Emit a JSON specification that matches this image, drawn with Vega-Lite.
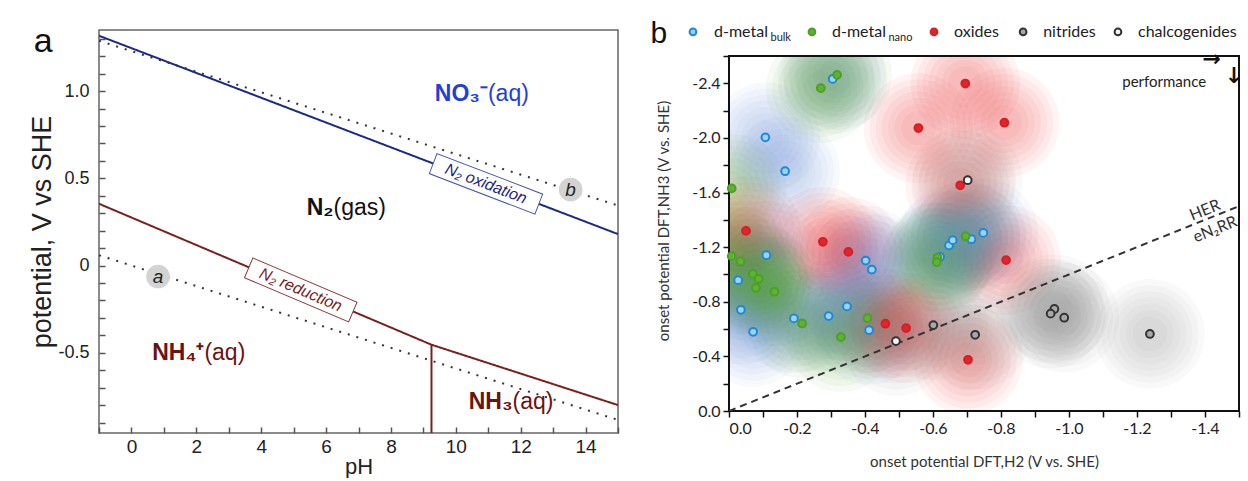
{
  "$schema": "https://vega.github.io/schema/vega-lite/v6.json",
  "background": "white",
  "padding": {"left": 28, "top": 18, "right": 4, "bottom": 0},
  "spacing": 30,
  "config": {"axis": {"grid": false}},
  "resolve": {"scale": {"color": "independent"}},
  "hconcat": [
    {
      "width": 519,
      "height": 403,
      "view": {"stroke": "#666", "strokeWidth": 1.5},
      "resolve": {"scale": {"color": "independent"}},
      "encoding": {
        "x": {
          "field": "pH", "type": "quantitative",
          "scale": {"domain": [-1, 15], "nice": false, "zero": false},
          "axis": {
            "title": "pH",
            "values": [-1,0,1,2,3,4,5,6,7,8,9,10,11,12,13,14,15],
            "labelExpr": "(datum.value % 2 == 0 && datum.value >= 0 && datum.value <= 14) ? format(datum.value, 'd') : ''",
            "domain": false, "tickSize": -6, "tickColor": "#555", "tickWidth": 1.5,
            "labelFont": "Liberation Sans", "labelFontSize": 19, "labelColor": "#222", "labelPadding": 10,
            "titleFont": "Liberation Sans", "titleFontSize": 22, "titleFontWeight": "normal", "titleColor": "#222", "titlePadding": 0
          }
        },
        "y": {
          "field": "E", "type": "quantitative",
          "scale": {"domain": [-0.96, 1.35], "nice": false, "zero": false},
          "axis": {
            "title": "potential, V vs SHE",
            "values": [-0.9,-0.8,-0.7,-0.6,-0.5,-0.4,-0.3,-0.2,-0.1,0,0.1,0.2,0.3,0.4,0.5,0.6,0.7,0.8,0.9,1.0,1.1,1.2,1.3],
            "labelExpr": "abs(datum.value*2 - round(datum.value*2)) < 0.001 ? (abs(datum.value) < 0.001 ? '0' : replace(format(datum.value, '.1f'), '\u2212', '-')) : ''",
            "domain": false, "tickSize": -6, "tickColor": "#555", "tickWidth": 1.5,
            "labelFont": "Liberation Sans", "labelFontSize": 18, "labelColor": "#222", "labelPadding": 16,
            "titleFont": "Liberation Sans", "titleFontSize": 27, "titleFontWeight": "normal", "titleColor": "#222", "titlePadding": 1
          }
        }
      },
      "layer": [
        {
          "data": {"values": [
            {"s": "ox", "pH": -1, "E": 1.317}, {"s": "ox", "pH": 15, "E": 0.18},
            {"s": "red", "pH": -1, "E": 0.354}, {"s": "red", "pH": 9.25, "E": -0.454}, {"s": "red", "pH": 15, "E": -0.80},
            {"s": "v", "pH": 9.25, "E": -0.454}, {"s": "v", "pH": 9.25, "E": -0.96},
            {"s": "da", "pH": -1, "E": 0.059}, {"s": "da", "pH": 15, "E": -0.885},
            {"s": "db", "pH": -1, "E": 1.288}, {"s": "db", "pH": 15, "E": 0.344}
          ]},
          "mark": {"type": "line", "clip": true, "strokeWidth": 2},
          "encoding": {
            "color": {"field": "s", "type": "nominal", "legend": null,
              "scale": {"domain": ["ox", "red", "v", "da", "db"], "range": ["#1b2a86", "#7b1f1f", "#7b1f1f", "#333333", "#333333"]}},
            "strokeDash": {"field": "s", "type": "nominal", "legend": null,
              "scale": {"domain": ["ox", "red", "v", "da", "db"], "range": [[1, 0], [1, 0], [1, 0], [2, 7], [2, 7]]}}
          }
        },
        {
          "data": {"values": [{"pH": 10.93, "E": 0.468}]},
          "mark": {"type": "point", "shape": "M-1,-0.19L1,-0.19L1,0.19L-1,0.19Z", "size": 12800, "angle": 21, "filled": true, "fill": "white", "stroke": "#4b58a6", "strokeWidth": 1, "opacity": 1}
        },
        {
          "data": {"values": [{"pH": 10.93, "E": 0.468, "t": "N₂ oxidation"}]},
          "mark": {"type": "text", "angle": 21, "fontStyle": "italic", "fontSize": 16, "font": "Liberation Sans", "color": "#1c2580"},
          "encoding": {"text": {"field": "t"}}
        },
        {
          "data": {"values": [{"pH": 5.22, "E": -0.14}]},
          "mark": {"type": "point", "shape": "M-1,-0.19L1,-0.19L1,0.19L-1,0.19Z", "size": 12800, "angle": 23, "filled": true, "fill": "white", "stroke": "#8b3a3a", "strokeWidth": 1, "opacity": 1}
        },
        {
          "data": {"values": [{"pH": 5.22, "E": -0.14, "t": "N₂ reduction"}]},
          "mark": {"type": "text", "angle": 23, "fontStyle": "italic", "fontSize": 16, "font": "Liberation Sans", "color": "#7a1c1c"},
          "encoding": {"text": {"field": "t"}}
        },
        {
          "data": {"values": [{"pH": 0.82, "E": -0.063, "t": "a"}, {"pH": 13.54, "E": 0.435, "t": "b"}]},
          "layer": [
            {"mark": {"type": "point", "shape": "circle", "size": 560, "filled": true, "color": "#d3d3d3", "opacity": 1}},
            {"mark": {"type": "text", "fontStyle": "italic", "fontSize": 19, "font": "Liberation Sans", "color": "#222"},
             "encoding": {"text": {"field": "t"}}}
          ]
        },
        {
          "data": {"values": [
            {"pH": 10.99, "E": 0.981, "b": "NO₃⁻", "r": "(aq)", "c": "no3"},
            {"pH": 6.23, "E": 0.33, "b": "N₂", "r": "(gas)", "c": "n2"},
            {"pH": 2.25, "E": -0.50, "b": "NH₄⁺", "r": "(aq)", "c": "nh4"},
            {"pH": 11.75, "E": -0.78, "b": "NH₃", "r": "(aq)", "c": "nh3"}
          ]},
          "layer": [
            {"mark": {"type": "text", "align": "right", "fontWeight": "bold", "fontSize": 23, "font": "Liberation Sans"},
             "encoding": {"text": {"field": "b"},
               "color": {"field": "c", "type": "nominal", "legend": null,
                 "scale": {"domain": ["no3", "n2", "nh4", "nh3"], "range": ["#1f3fd6", "#111111", "#6d1212", "#6d1212"]}}}},
            {"mark": {"type": "text", "align": "left", "fontSize": 23, "font": "Liberation Sans"},
             "encoding": {"text": {"field": "r"},
               "color": {"field": "c", "type": "nominal", "legend": null,
                 "scale": {"domain": ["no3", "n2", "nh4", "nh3"], "range": ["#1f3fd6", "#111111", "#6d1212", "#6d1212"]}}}}
          ]
        },
        {
          "data": {"values": [{"pH": -2.72, "E": 1.222, "t": "a"}]},
          "mark": {"type": "text", "baseline": "alphabetic", "fontSize": 34, "font": "Liberation Sans", "color": "#111"},
          "encoding": {"text": {"field": "t"}}
        }
      ]
    },
    {
      "width": 510,
      "height": 381,
      "view": {"stroke": null},
      "encoding": {
        "x": {
          "field": "x", "type": "quantitative",
          "scale": {"domain": [-1.5, 0], "reverse": true, "nice": false, "zero": false},
          "axis": {
            "title": "onset potential DFT,H2 (V vs. SHE)",
            "values": [0,-0.1,-0.2,-0.3,-0.4,-0.5,-0.6,-0.7,-0.8,-0.9,-1.0,-1.1,-1.2,-1.3,-1.4,-1.5],
            "labelExpr": "abs(datum.value*5 - round(datum.value*5)) < 0.001 && datum.value > -1.45 ? replace(format(datum.value, '.1f'), '\u2212', '-') : ''",
            "domain": false, "tickSize": 6, "tickColor": "#111", "tickWidth": 1.5,
            "labelFont": "Lato", "labelFontSize": 16, "labelColor": "#222", "labelPadding": 3,
            "titleFont": "Lato", "titleFontSize": 15, "titleFontWeight": "normal", "titleColor": "#333", "titlePadding": 18
          }
        },
        "y": {
          "field": "y", "type": "quantitative",
          "scale": {"domain": [-2.79, 0], "reverse": true, "nice": false, "zero": false},
          "axis": {
            "title": "onset potential DFT,NH3 (V vs. SHE)",
            "values": [0,-0.2,-0.4,-0.6,-0.8,-1.0,-1.2,-1.4,-1.6,-1.8,-2.0,-2.2,-2.4,-2.6],
            "labelExpr": "abs(datum.value*2.5 - round(datum.value*2.5)) < 0.001 && datum.value > -2.55 ? replace(format(datum.value, '.1f'), '\u2212', '-') : ''",
            "domain": false, "tickSize": 6, "tickColor": "#111", "tickWidth": 1.5,
            "labelFont": "Lato", "labelFontSize": 16, "labelColor": "#222", "labelPadding": 3,
            "titleFont": "Lato", "titleFontSize": 15, "titleFontWeight": "normal", "titleColor": "#333", "titlePadding": 20
          }
        }
      },
      "layer": [
        {
          "data": {"name": "pts"},
          "encoding": {"color": {"field": "cls", "type": "nominal", "legend": null,
            "scale": {"domain": ["d-metal bulk", "d-metal nano", "oxides", "nitrides", "chalcogenides"], "range": ["#6f8edb", "#5c9e33", "#e53a3f", "#8a8a8a", "#8a8a8a"]}}},
          "layer": [
            {"mark": {"type": "point", "filled": true, "size": 12000, "opacity": 0.055, "clip": true, "strokeWidth": 0}},
            {"mark": {"type": "point", "filled": true, "size": 9500, "opacity": 0.055, "clip": true, "strokeWidth": 0}},
            {"mark": {"type": "point", "filled": true, "size": 7300, "opacity": 0.055, "clip": true, "strokeWidth": 0}},
            {"mark": {"type": "point", "filled": true, "size": 5400, "opacity": 0.055, "clip": true, "strokeWidth": 0}},
            {"mark": {"type": "point", "filled": true, "size": 3700, "opacity": 0.055, "clip": true, "strokeWidth": 0}},
            {"mark": {"type": "point", "filled": true, "size": 2300, "opacity": 0.055, "clip": true, "strokeWidth": 0}},
            {"mark": {"type": "point", "filled": true, "size": 1200, "opacity": 0.055, "clip": true, "strokeWidth": 0}}
          ]
        },
        {
          "data": {"values": [{"x": 0, "x2": -1.5, "y": -2.79, "y2": -2.6}]},
          "mark": {"type": "rect", "fill": "white", "strokeWidth": 0},
          "encoding": {"x2": {"field": "x2"}, "y2": {"field": "y2"}}
        },
        {
          "data": {"values": [{"x": 0, "x2": -1.5, "y": -2.6, "y2": 0}]},
          "mark": {"type": "rect", "filled": false, "stroke": "#111", "strokeWidth": 2},
          "encoding": {"x2": {"field": "x2"}, "y2": {"field": "y2"}}
        },
        {
          "data": {"values": [{"x": 0, "y": 0}, {"x": -1.5, "y": -1.5}]},
          "mark": {"type": "line", "clip": true, "strokeDash": [7, 5], "strokeWidth": 2, "color": "#333"}
        },
        {
          "data": {"name": "pts"},
          "mark": {"type": "point", "filled": true, "size": 60, "strokeWidth": 2, "opacity": 1},
          "encoding": {
            "fill": {"field": "cls", "type": "nominal", "legend": null,
              "scale": {"domain": ["d-metal bulk", "d-metal nano", "oxides", "nitrides", "chalcogenides"], "range": ["#9ad4f5", "#5cb52e", "#e0262b", "#a8a8a8", "#f4f4f4"]}},
            "stroke": {"field": "cls", "type": "nominal", "legend": null,
              "scale": {"domain": ["d-metal bulk", "d-metal nano", "oxides", "nitrides", "chalcogenides"], "range": ["#1f87d6", "#4f9e25", "#d61f25", "#333333", "#333333"]}}
          }
        },
        {
          "data": {"values": [
            {"cls": "d-metal bulk", "x": 0.106, "y": -2.776},
            {"cls": "d-metal nano", "x": -0.244, "y": -2.776},
            {"cls": "oxides", "x": -0.603, "y": -2.776},
            {"cls": "nitrides", "x": -0.865, "y": -2.776},
            {"cls": "chalcogenides", "x": -1.144, "y": -2.776}
          ]},
          "mark": {"type": "point", "filled": true, "size": 45, "strokeWidth": 2, "opacity": 1},
          "encoding": {
            "fill": {"field": "cls", "type": "nominal", "legend": null},
            "stroke": {"field": "cls", "type": "nominal", "legend": null}
          }
        },
        {
          "data": {"values": [
            {"x": 0.044, "y": -2.776, "t": "d-metal"},
            {"x": -0.303, "y": -2.776, "t": "d-metal"},
            {"x": -0.662, "y": -2.776, "t": "oxides"},
            {"x": -0.924, "y": -2.776, "t": "nitrides"},
            {"x": -1.203, "y": -2.776, "t": "chalcogenides"}
          ]},
          "mark": {"type": "text", "align": "left", "fontSize": 16, "font": "Lato", "color": "#222"},
          "encoding": {"text": {"field": "t"}}
        },
        {
          "data": {"values": [
            {"x": -0.122, "y": -2.732, "t": "bulk"},
            {"x": -0.469, "y": -2.732, "t": "nano"}
          ]},
          "mark": {"type": "text", "align": "left", "fontSize": 11, "font": "Lato", "color": "#222"},
          "encoding": {"text": {"field": "t"}}
        },
        {
          "data": {"values": [
            {"x": -1.40, "y": -1.47, "t": "HER"},
            {"x": -1.43, "y": -1.33, "t": "eN₂RR"}
          ]},
          "mark": {"type": "text", "angle": -22, "fontSize": 16, "font": "Lato", "color": "#333"},
          "encoding": {"text": {"field": "t"}}
        },
        {
          "data": {"values": [{"x": -1.28, "y": -2.41, "t": "performance"}]},
          "mark": {"type": "text", "fontSize": 15, "font": "Lato", "color": "#222"},
          "encoding": {"text": {"field": "t"}}
        },
        {
          "data": {"values": [{"x": -1.42, "y": -2.575, "t": "→"}, {"x": -1.485, "y": -2.45, "t": "↓"}]},
          "mark": {"type": "text", "fontSize": 22, "fontWeight": "bold", "font": "DejaVu Sans", "color": "#111"},
          "encoding": {"text": {"field": "t"}}
        },
        {
          "data": {"values": [{"x": 0.206, "y": -2.695, "t": "b"}]},
          "mark": {"type": "text", "baseline": "alphabetic", "fontSize": 30, "font": "Liberation Sans", "color": "#111"},
          "encoding": {"text": {"field": "t"}}
        }
      ]
    }
  ],
  "datasets": {
    "pts": [
      {"cls": "d-metal bulk", "x": -0.305, "y": -2.432},
      {"cls": "d-metal bulk", "x": -0.107, "y": -2.004},
      {"cls": "d-metal bulk", "x": -0.165, "y": -1.756},
      {"cls": "d-metal bulk", "x": -0.110, "y": -1.141},
      {"cls": "d-metal bulk", "x": -0.027, "y": -0.958},
      {"cls": "d-metal bulk", "x": -0.035, "y": -0.741},
      {"cls": "d-metal bulk", "x": -0.071, "y": -0.580},
      {"cls": "d-metal bulk", "x": -0.191, "y": -0.678},
      {"cls": "d-metal bulk", "x": -0.293, "y": -0.695},
      {"cls": "d-metal bulk", "x": -0.347, "y": -0.766},
      {"cls": "d-metal bulk", "x": -0.402, "y": -1.102},
      {"cls": "d-metal bulk", "x": -0.420, "y": -1.036},
      {"cls": "d-metal bulk", "x": -0.412, "y": -0.593},
      {"cls": "d-metal bulk", "x": -0.621, "y": -1.129},
      {"cls": "d-metal bulk", "x": -0.647, "y": -1.212},
      {"cls": "d-metal bulk", "x": -0.658, "y": -1.251},
      {"cls": "d-metal bulk", "x": -0.713, "y": -1.258},
      {"cls": "d-metal bulk", "x": -0.748, "y": -1.304},
      {"cls": "d-metal nano", "x": -0.318, "y": -2.461},
      {"cls": "d-metal nano", "x": -0.270, "y": -2.364},
      {"cls": "d-metal nano", "x": -0.008, "y": -1.630},
      {"cls": "d-metal nano", "x": -0.008, "y": -1.134},
      {"cls": "d-metal nano", "x": -0.034, "y": -1.095},
      {"cls": "d-metal nano", "x": -0.070, "y": -1.004},
      {"cls": "d-metal nano", "x": -0.087, "y": -0.968},
      {"cls": "d-metal nano", "x": -0.079, "y": -0.902},
      {"cls": "d-metal nano", "x": -0.134, "y": -0.875},
      {"cls": "d-metal nano", "x": -0.215, "y": -0.641},
      {"cls": "d-metal nano", "x": -0.329, "y": -0.541},
      {"cls": "d-metal nano", "x": -0.407, "y": -0.680},
      {"cls": "d-metal nano", "x": -0.613, "y": -1.124},
      {"cls": "d-metal nano", "x": -0.611, "y": -1.090},
      {"cls": "d-metal nano", "x": -0.696, "y": -1.280},
      {"cls": "oxides", "x": -0.695, "y": -2.398},
      {"cls": "oxides", "x": -0.557, "y": -2.072},
      {"cls": "oxides", "x": -0.810, "y": -2.111},
      {"cls": "oxides", "x": -0.680, "y": -1.653},
      {"cls": "oxides", "x": -0.050, "y": -1.319},
      {"cls": "oxides", "x": -0.276, "y": -1.239},
      {"cls": "oxides", "x": -0.351, "y": -1.165},
      {"cls": "oxides", "x": -0.815, "y": -1.105},
      {"cls": "oxides", "x": -0.460, "y": -0.639},
      {"cls": "oxides", "x": -0.521, "y": -0.607},
      {"cls": "oxides", "x": -0.703, "y": -0.375},
      {"cls": "nitrides", "x": -0.601, "y": -0.629},
      {"cls": "nitrides", "x": -0.724, "y": -0.558},
      {"cls": "nitrides", "x": -0.957, "y": -0.747},
      {"cls": "nitrides", "x": -0.946, "y": -0.713},
      {"cls": "nitrides", "x": -0.986, "y": -0.683},
      {"cls": "nitrides", "x": -1.238, "y": -0.564},
      {"cls": "chalcogenides", "x": -0.491, "y": -0.512},
      {"cls": "chalcogenides", "x": -0.702, "y": -1.690}
    ]
  }
}
